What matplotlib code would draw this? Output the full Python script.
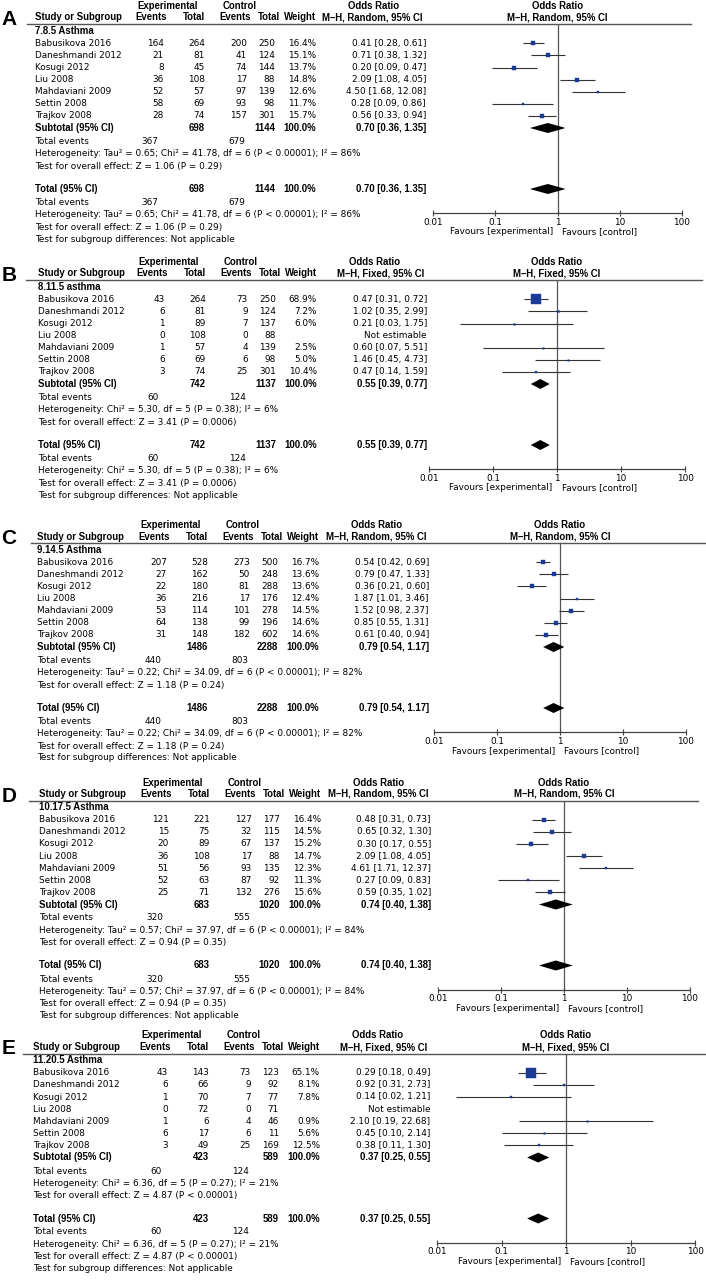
import matplotlib.pyplot as plt
import matplotlib.ticker as ticker
import matplotlib.font_manager as fm
import numpy as np

plt.rcParams['font.family'] = ['DejaVu Sans']

studies = ['Babusikova 2016', 'Daneshmandi 2012', 'Kosugi 2012', 'Liu 2008',
           'Mahdaviani 2009', 'Settin 2008', 'Trajkov 2008']
panels = ['A', 'B', 'C', 'D', 'E']
subgroups = ['7.8.5 Asthma', '8.11.5 asthma', '9.14.5 Asthma', '10.17.5 Asthma', '11.20.5 Asthma']
methods = ['Random', 'Fixed', 'Random', 'Random', 'Fixed']

exp_events = [[164, 21, 8, 36, 52, 58, 28],
              [43, 6, 1, 0, 1, 6, 3],
              [207, 27, 22, 36, 53, 64, 31],
              [121, 15, 20, 36, 51, 52, 25],
              [43, 6, 1, 0, 1, 6, 3]]
exp_total = [[264, 81, 45, 108, 57, 69, 74],
             [264, 81, 89, 108, 57, 69, 74],
             [528, 162, 180, 216, 114, 138, 148],
             [221, 75, 89, 108, 56, 63, 71],
             [143, 66, 70, 72, 6, 17, 49]]
ctl_events = [[200, 41, 74, 17, 97, 93, 157],
              [73, 9, 7, 0, 4, 6, 25],
              [273, 50, 81, 17, 101, 99, 182],
              [127, 32, 67, 17, 93, 87, 132],
              [73, 9, 7, 0, 4, 6, 25]]
ctl_total = [[250, 124, 144, 88, 139, 98, 301],
             [250, 124, 137, 88, 139, 98, 301],
             [500, 248, 288, 176, 278, 196, 602],
             [177, 115, 137, 88, 135, 92, 276],
             [123, 92, 77, 71, 46, 11, 169]]
weights = [[16.4, 15.1, 13.7, 14.8, 12.6, 11.7, 15.7],
           [68.9, 7.2, 6.0, None, 2.5, 5.0, 10.4],
           [16.7, 13.6, 13.6, 12.4, 14.5, 14.6, 14.6],
           [16.4, 14.5, 15.2, 14.7, 12.3, 11.3, 15.6],
           [65.1, 8.1, 7.8, None, 0.9, 5.6, 12.5]]
odds = [[0.41, 0.71, 0.20, 2.09, 4.50, 0.28, 0.56],
        [0.47, 1.02, 0.21, None, 0.60, 1.46, 0.47],
        [0.54, 0.79, 0.36, 1.87, 1.52, 0.85, 0.61],
        [0.48, 0.65, 0.30, 2.09, 4.61, 0.27, 0.59],
        [0.29, 0.92, 0.14, None, 2.10, 0.45, 0.38]]
ci_low = [[0.28, 0.38, 0.09, 1.08, 1.68, 0.09, 0.33],
          [0.31, 0.35, 0.03, None, 0.07, 0.45, 0.14],
          [0.42, 0.47, 0.21, 1.01, 0.98, 0.55, 0.40],
          [0.31, 0.32, 0.17, 1.08, 1.71, 0.09, 0.35],
          [0.18, 0.31, 0.02, None, 0.19, 0.10, 0.11]]
ci_high = [[0.61, 1.32, 0.47, 4.05, 12.08, 0.86, 0.94],
           [0.72, 2.99, 1.75, None, 5.51, 4.73, 1.59],
           [0.69, 1.33, 0.60, 3.46, 2.37, 1.31, 0.94],
           [0.73, 1.30, 0.55, 4.05, 12.37, 0.83, 1.02],
           [0.49, 2.73, 1.21, None, 22.68, 2.14, 1.30]]
pooled_or = [0.70, 0.55, 0.79, 0.74, 0.37]
pooled_low = [0.36, 0.39, 0.54, 0.40, 0.25]
pooled_high = [1.35, 0.77, 1.17, 1.38, 0.55]
sum_exp_total = [698, 742, 1486, 683, 423]
sum_ctl_total = [1144, 1137, 2288, 1020, 589]
sum_exp_events = [367, 60, 440, 320, 60]
sum_ctl_events = [679, 124, 803, 555, 124]
tau2 = ['0.65', None, '0.22', '0.57', None]
chi2 = ['41.78', '5.30', '34.09', '37.97', '6.36']
het_df = [6, 5, 6, 6, 5]
het_p = ['< 0.00001', '= 0.38', '< 0.00001', '< 0.00001', '= 0.27']
i2 = [86, 6, 82, 84, 21]
z_val = ['1.06', '3.41', '1.18', '0.94', '4.87']
z_p = ['= 0.29', '= 0.0006', '= 0.24', '= 0.35', '< 0.00001']

W, H = 706, 1285
FS = 6.4

# bold text: condensed DejaVu if present, else Liberation Sans (narrower than DejaVu bold)
cond = [f for f in fm.fontManager.ttflist
        if f.name == 'DejaVu Sans' and f.stretch == 'condensed' and f.weight == 'bold']
if cond:
    BOLD = dict(family='DejaVu Sans', fontstretch='condensed', fontsize=6.3)
else:
    BOLD = dict(family='Liberation Sans', fontsize=6.9)

fig = plt.figure(figsize=(W / 100, H / 100), dpi=100)
bg = fig.add_axes([0, 0, 1, 1])
bg.set_xlim(0, W)
bg.set_ylim(H, 0)
bg.axis('off')

# per-panel layout (pixels), the source panels were pasted at slightly different scales
off_y = [0, 256, 519, 776.5, 1029.5]
dx = [0, 1, 3, 5, 4]
name_x = [35, 38, 37, 39, 33]
plot_c = [557.5, 557, 560, 564, 566]
decade = [62.2, 64, 63, 63, 64.5]
line_l = [27, 26, 31, 29, 23]
line_r = [691, 702, 706, 698, 705]

row_y = 43.3 + 12.1 * np.arange(len(studies))
sub_y, tot_y = 128, 189


def txt(x, y, s, ha='left', bold=False):
    if bold:
        bg.text(x, y, s, ha=ha, va='center', fontweight='bold', color='black', **BOLD)
    else:
        bg.text(x, y, s, ha=ha, va='center', fontsize=FS, color='black')


def fmt_or(o, lo, hi):
    if o is None:
        return 'Not estimable'
    return f'{o:.2f} [{lo:.2f}, {hi:.2f}]'


for k in range(len(panels)):
    oy, d, nx = off_y[k], dx[k], name_x[k]
    c, dec = plot_c[k], decade[k]

    bg.text(9, oy + 19.5, panels[k], ha='center', va='center', fontsize=15,
            fontweight='bold', family='Liberation Sans')

    # headers
    txt(168 + d, oy + 6, 'Experimental', ha='center', bold=True)
    txt(240 + d, oy + 6, 'Control', ha='center', bold=True)
    txt(374 + d, oy + 6, 'Odds Ratio', ha='center', bold=True)
    txt(c, oy + 6, 'Odds Ratio', ha='center', bold=True)
    txt(nx, oy + 17.5, 'Study or Subgroup', bold=True)
    txt(167 + d, oy + 17.5, 'Events', ha='right', bold=True)
    txt(205 + d, oy + 17.5, 'Total', ha='right', bold=True)
    txt(251 + d, oy + 17.5, 'Events', ha='right', bold=True)
    txt(280 + d, oy + 17.5, 'Total', ha='right', bold=True)
    txt(316 + d, oy + 17.5, 'Weight', ha='right', bold=True)
    mh = f'M\u2013H, {methods[k]}, 95% CI'
    txt(423 + d, oy + 17.5, mh, ha='right', bold=True)
    txt(c, oy + 17.5, mh, ha='center', bold=True)
    bg.plot([line_l[k], line_r[k]], [oy + 24, oy + 24], color='#555555', lw=1.0)
    txt(nx, oy + 30.7, subgroups[k], bold=True)

    # study rows
    for i, s in enumerate(studies):
        y = oy + row_y[i]
        txt(nx, y, s)
        txt(164 + d, y, str(exp_events[k][i]), ha='right')
        txt(205 + d, y, str(exp_total[k][i]), ha='right')
        txt(247 + d, y, str(ctl_events[k][i]), ha='right')
        txt(275 + d, y, str(ctl_total[k][i]), ha='right')
        w = weights[k][i]
        if w is not None:
            txt(316 + d, y, f'{w:.1f}%', ha='right')
        txt(426 + d, y, fmt_or(odds[k][i], ci_low[k][i], ci_high[k][i]), ha='right')

    het = 'Heterogeneity: '
    if tau2[k] is not None:
        het += f'Tau\u00b2 = {tau2[k]}; '
    het += f'Chi\u00b2 = {chi2[k]}, df = {het_df[k]} (P {het_p[k]}); I\u00b2 = {i2[k]}%'
    ztxt = f'Test for overall effect: Z = {z_val[k]} (P {z_p[k]})'
    pooled_txt = fmt_or(pooled_or[k], pooled_low[k], pooled_high[k])

    for base, label in [(sub_y, 'Subtotal (95% CI)'), (tot_y, 'Total (95% CI)')]:
        y = oy + base
        txt(nx, y, label, bold=True)
        txt(205 + d, y, str(sum_exp_total[k]), ha='right', bold=True)
        txt(275 + d, y, str(sum_ctl_total[k]), ha='right', bold=True)
        txt(316 + d, y, '100.0%', ha='right', bold=True)
        txt(426 + d, y, pooled_txt, ha='right', bold=True)
        txt(nx, y + 13.5, 'Total events')
        txt(158 + d, y + 13.5, str(sum_exp_events[k]), ha='right')
        txt(245 + d, y + 13.5, str(sum_ctl_events[k]), ha='right')
        txt(nx, y + 25.8, het)
        txt(nx, y + 38.2, ztxt)
    txt(nx, oy + 239, 'Test for subgroup differences: Not applicable')

    # forest plot
    ax = fig.add_axes([(c - 2 * dec) / W, 1 - (oy + 213) / H, 4 * dec / W, (213 - 24) / H])
    ax.set_xscale('log')
    ax.set_xlim(0.01, 100)
    ax.set_ylim(213, 24)
    ax.patch.set_alpha(0)
    for sp in ['top', 'left', 'right']:
        ax.spines[sp].set_visible(False)
    ax.spines['bottom'].set_color('#444444')
    ax.spines['bottom'].set_linewidth(0.9)
    ax.set_yticks([])
    ax.set_xticks([0.01, 0.1, 1, 10, 100])
    ax.set_xticklabels(['0.01', '0.1', '1', '10', '100'])
    ax.xaxis.set_minor_locator(ticker.NullLocator())
    ax.tick_params(axis='x', direction='inout', length=4, width=0.8,
                   color='#444444', labelsize=FS, pad=1.5)
    ax.axvline(1, color='#555555', lw=0.9, zorder=1)

    for i in range(len(studies)):
        o = odds[k][i]
        if o is None:
            continue
        ax.hlines(row_y[i], ci_low[k][i], ci_high[k][i], color='#333333', lw=0.8,
                  zorder=2, clip_on=False)
        side = max(1.5, 0.455 * weights[k][i] ** 0.73)
        ax.plot([o], [row_y[i]], marker='s', ms=side * 0.72, color='#1b3a96',
                mec='#1b3a96', mew=0.3, ls='none', zorder=3, clip_on=False)

    for base in [sub_y, tot_y]:
        ax.fill([pooled_low[k], pooled_or[k], pooled_high[k], pooled_or[k]],
                [base, base - 5, base, base + 5], color='black', lw=0, zorder=4,
                clip_on=False)

    txt(c - 4.5, oy + 232, 'Favours [experimental]', ha='right')
    txt(c + 4.5, oy + 232, 'Favours [control]', ha='left')

plt.savefig('out.png', dpi=100)
